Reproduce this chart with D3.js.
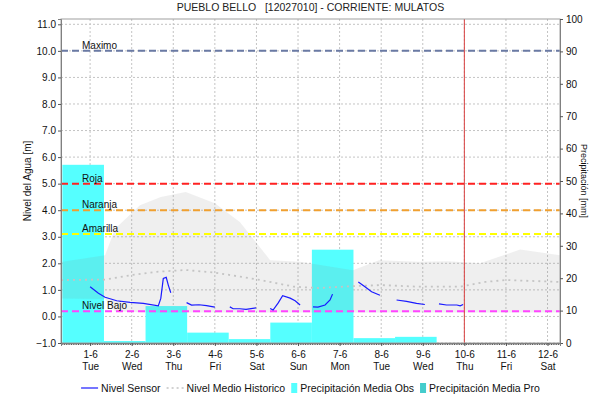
<!DOCTYPE html>
<html>
<head>
<meta charset="utf-8">
<script src="https://cdn.jsdelivr.net/npm/d3@7"></script>
<style>
  body { margin: 0; background: #fff; }
  text { font-family: "Liberation Sans", Arial, sans-serif; }
</style>
</head>
<body>
<div id="chart"></div>
<script>
  // day numbers: 1 = 1-6 (June 1st, 00:00)
  const dayLabels = ["1-6","2-6","3-6","4-6","5-6","6-6","7-6","8-6","9-6","10-6","11-6","12-6"];
  const weekDays = ["Tue","Wed","Thu","Fri","Sat","Sun","Mon","Tue","Wed","Thu","Fri","Sat"];

  // precipitation obs per day [mm]
  const precipDays = [1, 2, 3, 4, 5, 6, 7, 8, 9];
  const precipObs = [55, 0.6, 11.4, 3.2, 1.2, 6.3, 28.8, 1.5, 1.9];

  // historic range (band) and mean level [m]
  const bandDays  = [0.3, 1.36, 1.6, 2.2, 2.7, 3.3, 4.0, 4.6, 5.33, 6.05, 7.32, 7.95, 8.9, 9.6, 10.38, 11.34, 12.3];
  const bandHigh  = [2.05, 2.3, 3.3, 4.19, 4.5, 4.69, 4.26, 3.56, 2.12, 2.06, 1.74, 2.12, 2.06, 2.08, 2.0, 2.52, 2.3];
  const bandLow   = [0.68, 0.66, 0.2, 0.16, 0.15, 0.15, 0.15, 0.15, 0.15, 0.15, 0.15, 0.15, 0.15, 0.15, 0.15, 0.15, 0.15];

  const meanDays  = [0.3, 1.36, 1.96, 2.6, 3.3, 4.0, 4.6, 5.1, 5.9, 6.5, 7.3, 8.0, 8.9, 9.9, 10.5, 11.0, 12.3];
  const meanLevel = [1.37, 1.39, 1.55, 1.68, 1.75, 1.65, 1.5, 1.37, 1.12, 1.07, 1.14, 1.18, 1.12, 1.12, 1.3, 1.37, 1.3];

  // sensor level, segments with gaps
  const sensorSegments = [
    [[1.0,1.12],[1.2,0.87],[1.36,0.72],[1.64,0.59],[1.96,0.53],[2.28,0.49],[2.64,0.40],[2.70,0.68],[2.76,1.43],[2.83,1.47],[2.88,1.18],[2.94,0.89]],
    [[3.32,0.52],[3.44,0.43],[3.62,0.44],[3.80,0.41],[4.0,0.35]],
    [[4.36,0.36],[4.44,0.29],[4.6,0.29],[4.75,0.27],[4.99,0.32]],
    [[5.33,0.3],[5.4,0.24],[5.52,0.5],[5.63,0.78],[5.81,0.69],[5.93,0.59],[6.05,0.43]],
    [[6.36,0.36],[6.48,0.35],[6.65,0.43],[6.77,0.62],[6.83,0.84]],
    [[7.45,1.30],[7.61,1.12],[7.77,0.93],[7.97,0.8]],
    [[8.37,0.62],[8.61,0.57],[8.85,0.49],[9.05,0.45]],
    [[9.39,0.47],[9.57,0.43],[9.82,0.43],[9.9,0.40],[9.97,0.45]]
  ];

  // alert thresholds
  const thresholdNames  = ["Maximo", "Roja", "Naranja", "Amarilla", "Nivel Bajo"];
  const thresholdValues = [10.0, 5.0, 4.0, 3.1, 0.2];
  const thresholdColors = ["#6a7aa4", "#ff2222", "#f0a030", "#ffff00", "#ff44ff"];

  const nowDay = 10;

  const W = 590, H = 404;
  const margin = { top: 19, right: 30, bottom: 61, left: 61 };
  const width = W - margin.left - margin.right;
  const height = H - margin.top - margin.bottom;

  const svg = d3.select("#chart").append("svg")
      .attr("width", W).attr("height", H);
  svg.append("rect").attr("width", W).attr("height", H).attr("fill", "#fff");

  const g = svg.append("g").attr("transform", `translate(${margin.left},${margin.top})`);

  const x = d3.scaleLinear().domain([0.3, 12.3]).range([0, width]);
  const yL = d3.scaleLinear().domain([-1, 11.2]).range([height, 0]);
  const yR = d3.scaleLinear().domain([0, 100]).range([height, 0]);

  g.append("defs").append("clipPath").attr("id", "clip")
    .append("rect").attr("width", width).attr("height", height);

  const plot = g.append("g").attr("clip-path", "url(#clip)");

  // grid
  const days = d3.range(1, 13);
  plot.selectAll(".hgrid").data(d3.range(-1, 12, 1)).join("line")
      .attr("x1", 0).attr("x2", width)
      .attr("y1", d => yL(d)).attr("y2", d => yL(d))
      .attr("stroke", "#c4c4c4").attr("stroke-dasharray", "2,2");
  plot.selectAll(".vgrid").data(days).join("line")
      .attr("x1", d => x(d)).attr("x2", d => x(d))
      .attr("y1", 0).attr("y2", height)
      .attr("stroke", "#c4c4c4").attr("stroke-dasharray", "2,2");

  // precipitation bars (8am to 8am)
  const off = 1 / 3;
  plot.selectAll(".bar").data(precipDays.map((d, i) => ({ d, v: precipObs[i] }))).join("rect")
      .attr("x", p => x(p.d - 1 + off))
      .attr("width", p => x(p.d + off) - x(p.d - 1 + off))
      .attr("y", p => yR(p.v))
      .attr("height", p => height - yR(p.v))
      .attr("fill", "#55ffff");

  // historic band
  const band = bandDays.map((d, i) => ({ d, lo: bandLow[i], hi: bandHigh[i] }));
  plot.append("path").datum(band)
      .attr("d", d3.area().x(p => x(p.d)).y0(p => yL(p.lo)).y1(p => yL(p.hi)))
      .attr("fill", "#808080").attr("fill-opacity", 0.13);

  // historic mean
  plot.append("path").datum(meanDays.map((d, i) => [d, meanLevel[i]]))
      .attr("d", d3.line().x(p => x(p[0])).y(p => yL(p[1])))
      .attr("fill", "none").attr("stroke", "#c4c4c4").attr("stroke-width", 1.8)
      .attr("stroke-dasharray", "2,4");

  // thresholds
  thresholdValues.forEach((v, i) => {
    plot.append("line")
        .attr("x1", 0).attr("x2", width)
        .attr("y1", yL(v)).attr("y2", yL(v))
        .attr("stroke", thresholdColors[i]).attr("stroke-width", 2)
        .attr("stroke-dasharray", "7,4");
    plot.append("text")
        .attr("x", 21).attr("y", yL(v) - 2)
        .attr("font-size", 10).attr("fill", "#111")
        .text(thresholdNames[i]);
  });

  // sensor
  sensorSegments.forEach(seg => {
    plot.append("path").datum(seg)
        .attr("d", d3.line().x(p => x(p[0])).y(p => yL(p[1])))
        .attr("fill", "none").attr("stroke", "#1a1aff").attr("stroke-width", 1.2);
  });

  // now line
  plot.append("line")
      .attr("x1", x(nowDay)).attr("x2", x(nowDay))
      .attr("y1", 0).attr("y2", height)
      .attr("stroke", "#d84040").attr("stroke-width", 1);

  // frame
  g.append("rect").attr("width", width).attr("height", height)
      .attr("fill", "none").attr("stroke", "#a0a0a0");

  // left axis
  const axL = g.append("g")
      .call(d3.axisLeft(yL).tickValues(d3.range(-1, 11.5, 1)).tickFormat(d3.format(".1f")).tickSize(3).tickPadding(2));
  // right axis
  const axR = g.append("g").attr("transform", `translate(${width},0)`)
      .call(d3.axisRight(yR).tickValues(d3.range(0, 101, 10)).tickSize(3).tickPadding(3));
  // bottom: hourly minor ticks
  const axM = g.append("g").attr("transform", `translate(0,${height})`)
      .call(d3.axisBottom(x).tickValues(d3.range(8, 296).map(h => h / 24)).tickSize(2).tickFormat(""));
  // bottom: day labels
  const axB = g.append("g").attr("transform", `translate(0,${height})`)
      .call(d3.axisBottom(x).tickValues(days).tickSize(3).tickFormat(""));
  axB.selectAll(".tick").append("text")
      .attr("fill", "#111").attr("font-size", 10).attr("text-anchor", "middle")
      .attr("y", 15).text(d => dayLabels[d - 1]);
  axB.selectAll(".tick").append("text")
      .attr("fill", "#111").attr("font-size", 10).attr("text-anchor", "middle")
      .attr("y", 27).text(d => weekDays[d - 1]);

  [axL, axR, axM, axB].forEach(a => {
    a.select(".domain").attr("stroke", "#808080");
    a.selectAll(".tick line").attr("stroke", "#555");
    a.selectAll("text").attr("font-family", "Liberation Sans, Arial, sans-serif");
  });
  axL.selectAll(".tick text").attr("font-size", 10).attr("fill", "#111");
  axR.selectAll(".tick text").attr("font-size", 10).attr("fill", "#111");

  // axis titles
  svg.append("text")
      .attr("transform", `translate(31,${margin.top + height / 2}) rotate(-90)`)
      .attr("text-anchor", "middle").attr("font-size", 10).attr("fill", "#111")
      .text("Nivel del Agua [m]");
  svg.append("text")
      .attr("transform", `translate(581,${margin.top + height / 2}) rotate(90)`)
      .attr("text-anchor", "middle").attr("font-size", 9).attr("fill", "#111")
      .text("Precipitación [mm]");

  // title
  svg.append("text")
      .attr("x", margin.left + width / 2).attr("y", 11)
      .attr("text-anchor", "middle").attr("font-size", 10.5).attr("fill", "#222")
      .attr("xml:space", "preserve")
      .text("PUEBLO BELLO   [12027010] - CORRIENTE: MULATOS");

  // legend
  const legendItems = [
    { type: "line", label: "Nivel Sensor", color: "#1a1aff" },
    { type: "dots", label: "Nivel Medio Historico", color: "#c4c4c4" },
    { type: "box", label: "Precipitación Media Obs", color: "#55ffff" },
    { type: "box", label: "Precipitación Media Pro", color: "#44cccc" }
  ];
  const leg = svg.append("g");
  let lx = 0;
  const ly = 388;
  legendItems.forEach((it, i) => {
    const sw = it.type === "box" ? 6 : 17;
    if (it.type === "box") {
      leg.append("rect").attr("x", lx).attr("y", ly - 5).attr("width", 6).attr("height", 10).attr("fill", it.color);
    } else {
      leg.append("line").attr("x1", lx).attr("x2", lx + sw).attr("y1", ly).attr("y2", ly)
          .attr("stroke", it.color).attr("stroke-width", it.type === "line" ? 1.2 : 1.5)
          .attr("stroke-dasharray", it.type === "dots" ? "2,3" : null);
    }
    const t = leg.append("text").attr("x", lx + sw + 3).attr("y", ly + 4)
        .attr("font-size", 10.5).attr("fill", "#111").text(it.label);
    lx += sw + 3 + t.node().getComputedTextLength() + 6;
  });
  const legW = lx - 6;
  leg.attr("transform", `translate(${(margin.left + width / 2) - legW / 2},0)`);
</script>
</body>
</html>
